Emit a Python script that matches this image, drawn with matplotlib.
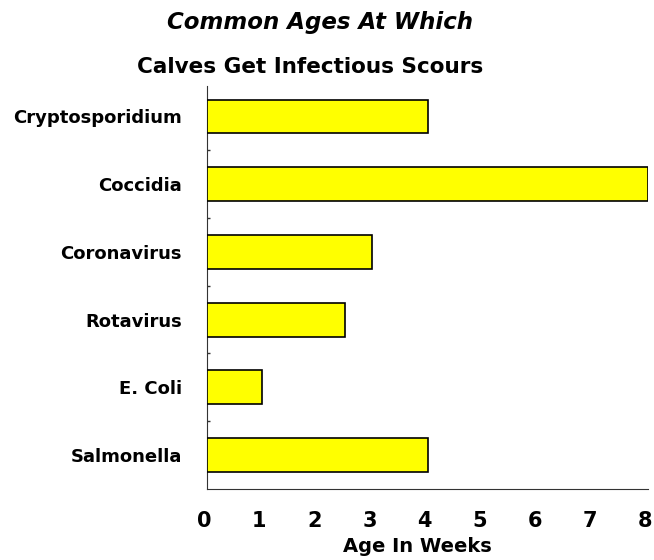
import matplotlib.pyplot as plt
from matplotlib.ticker import FixedLocator
from matplotlib.transforms import ScaledTranslation

plt.rcParams['font.family'] = ['DejaVu Sans']

# data, listed top to bottom as shown
categories = ['Cryptosporidium', 'Coccidia', 'Coronavirus', 'Rotavirus',
              'E. Coli', 'Salmonella']
weeks = [4, 8, 3, 2.5, 1, 4]
xticks = [0, 1, 2, 3, 4, 5, 6, 7, 8]

fig = plt.figure(figsize=(6.54, 5.6), dpi=100)
ax = fig.add_axes([0.3165, 0.127, 0.6745, 0.7195])

pos = list(range(len(categories)))[::-1]
ax.barh(pos, weeks, height=0.5, color='#ffff00', edgecolor='black',
        linewidth=1.2, zorder=3)

ax.set_xlim(0, 8)
ax.set_ylim(-0.5, 5.45)

ax.spines['top'].set_visible(False)
ax.spines['right'].set_visible(False)
ax.spines['left'].set_color('#333333')
ax.spines['bottom'].set_color('#333333')

ax.set_xticks(xticks)
ax.set_xticklabels([str(t) for t in xticks], fontsize=15, fontweight='bold')
ax.tick_params(axis='x', length=0, pad=16)
shift = ScaledTranslation(-3 / 100, 0, fig.dpi_scale_trans)
for lbl in ax.get_xticklabels():
    lbl.set_transform(lbl.get_transform() + shift)

ax.set_yticks(pos)
ax.set_yticklabels(categories, fontsize=13, fontweight='bold')
ax.tick_params(axis='y', which='major', length=0, pad=18)
ax.yaxis.set_minor_locator(FixedLocator([p + 0.5 for p in pos[1:]]))
ax.tick_params(axis='y', which='minor', direction='in', length=2, width=1,
               color='#333333')

ax.set_xlabel('Age In Weeks', fontsize=14, fontweight='bold', va='center')
ax.xaxis.set_label_coords(0.478, -0.143)

fig.text(0.49, 0.96, 'Common Ages At Which', ha='center', va='center',
         fontsize=16.5, fontweight='bold', fontstyle='italic')
fig.text(0.474, 0.88, 'Calves Get Infectious Scours', ha='center',
         va='center', fontsize=15.5, fontweight='bold')

fig.savefig('out.png', dpi=100)
